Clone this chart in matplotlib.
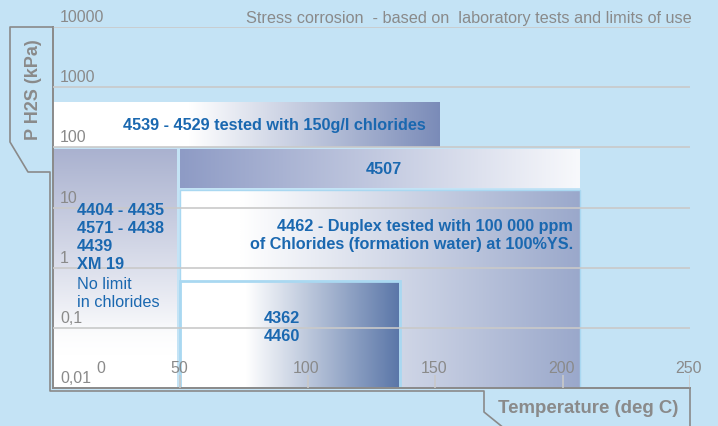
import numpy as np
import matplotlib.pyplot as plt
from matplotlib.colors import to_rgb
from matplotlib.lines import Line2D
from matplotlib.patches import Rectangle

plt.rcParams["font.family"] = ["Liberation Sans", "DejaVu Sans"]

W, H = 718, 427
BG = "#c4e3f5"
GRAY = "#8a8a8a"
GRID = "#c9c9c9"
BLUE = "#1a68b0"
EDGE = "#a9d8f1"

# axis values
y_ticks = [0.01, 0.1, 1, 10, 100, 1000, 10000]
y_tick_labels = ["0,01", "0,1", "1", "10", "100", "1000", "10000"]
x_ticks = [0, 50, 100, 150, 200, 250]
x_tick_labels = ["0", "50", "100", "150", "200", "250"]

# domains of use per grade (temperature deg C, P H2S kPa)
grades = ["4539 - 4529", "4507", "4404 / 4571 / 4439 / XM 19", "4462", "4362 / 4460"]
t_low = [0, 50, 0, 50, 50]
t_high = [152, 207, 49, 207, 136]
p_low = [100, 21, 0.01, 0.01, 0.01]
p_high = [560, 97, 97, 19.5, 0.61]


def px(x, y):
    return x / W, 1 - y / H


def gradient(ax, x0, x1, y0, y1, c0, c1, vertical=False, hold=0.0):
    c0 = np.array(to_rgb(c0))
    c1 = np.array(to_rgb(c1))
    if vertical:
        ys = np.linspace(y0, y1, 2000)
        t = (np.log10(ys) - np.log10(y0)) / (np.log10(y1) - np.log10(y0))
    else:
        t = np.linspace(0, 1, 400)
    m = np.clip((t - hold) / (1 - hold), 0, 1)
    cols = c0 + (c1 - c0) * m[:, None]
    img = cols[:, None, :] if vertical else cols[None, :, :]
    ax.imshow(img, extent=(x0, x1, y0, y1), origin="lower", aspect="auto",
              interpolation="bilinear", zorder=1)


fig = plt.figure(figsize=(W / 100, H / 100), dpi=100)
fig.patch.set_facecolor(BG)

ax = fig.add_axes([53 / W, 38 / H, 637 / W, 361 / H])
ax.set_facecolor("none")
ax.set_yscale("log")

# colour ramps of each box
ramps = [
    ("#ffffff", "#7a8bb8", False, 0.35),
    ("#8e9bc5", "#f8f9fc", False, 0.0),
    ("#ffffff", "#a9b1cf", True, 0.15),
    ("#ffffff", "#9aa8cb", False, 0.15),
    ("#ffffff", "#5a76a8", False, 0.3),
]
for i in range(len(grades)):
    c0, c1, vert, hold = ramps[i]
    gradient(ax, t_low[i], t_high[i], p_low[i], p_high[i], c0, c1, vert, hold)

# light blue outline round the duplex and 4362 boxes
for i in [3, 4]:
    ax.add_patch(Rectangle((t_low[i], p_low[i]), t_high[i] - t_low[i],
                           p_high[i] - p_low[i], fill=False, edgecolor=EDGE,
                           lw=2 if i == 4 else 1, zorder=2))

ax.set_xlim(0, 250)
ax.set_ylim(0.01, 10000)

for v in y_ticks[1:]:
    ax.axhline(v, color=GRID, lw=1.2, zorder=3)
ax.vlines(x_ticks[1:], 0.01, 0.0165, color=GRID, lw=1.2, zorder=3)

ax.set_xticks([])
ax.set_yticks([])
ax.minorticks_off()
for s in ["top", "right"]:
    ax.spines[s].set_visible(False)
for s in ["left", "bottom"]:
    ax.spines[s].set_color(GRAY)
    ax.spines[s].set_linewidth(1.4)

for v, lab in zip(y_ticks, y_tick_labels):
    ax.annotate(lab, (0, v), xytext=(5, 7.5), textcoords="offset points",
                ha="left", va="center", color=GRAY, fontsize=11.5, zorder=4)
for v, lab in zip(x_ticks, x_tick_labels):
    dx = 34.5 if v == 0 else -1
    ax.annotate(lab, (v, 0.01), xytext=(dx, 14.5), textcoords="offset points",
                ha="center", va="center", color=GRAY, fontsize=11.5, zorder=4)

# box labels
ax.text(87, 237, "4539 - 4529 tested with 150g/l chlorides", color=BLUE,
        fontsize=11.7, fontweight="bold", ha="center", va="center", zorder=4)
ax.text(130, 45, "4507", color=BLUE, fontsize=11.7, fontweight="bold",
        ha="center", va="center", zorder=4)
ax.text(9.3, 3.3, "4404 - 4435\n4571 - 4438\n4439\nXM 19", color=BLUE,
        fontsize=11.7, fontweight="bold", ha="left", va="center", zorder=4,
        linespacing=1.26)
ax.text(9.3, 0.39, "No limit\nin chlorides", color=BLUE, fontsize=11.7,
        ha="left", va="center", zorder=4, linespacing=1.26)
ax.text(204, 3.6, "4462 - Duplex tested with 100 000 ppm\n"
        "of Chlorides (formation water) at 100%YS.", color=BLUE,
        fontsize=11.7, fontweight="bold", ha="right", va="center",
        multialignment="right", zorder=4, linespacing=1.26)
ax.text(82.8, 0.105, "4362\n4460", color=BLUE, fontsize=11.7,
        fontweight="bold", ha="left", va="center", zorder=4, linespacing=1.26)

# frame and axis-title tabs
outer = [(53, 28), (10, 28), (10, 143), (28, 173), (50, 173), (50, 392),
         (484, 392), (484, 413), (505, 430)]
fig.add_artist(Line2D([px(*p)[0] for p in outer], [px(*p)[1] for p in outer],
                      transform=fig.transFigure, color=GRAY, lw=1.2))
right_tab = [(690, 389), (690, 430)]
fig.add_artist(Line2D([px(*p)[0] for p in right_tab],
                      [px(*p)[1] for p in right_tab],
                      transform=fig.transFigure, color=GRAY, lw=1.2))

fig.text(*px(692, 18), "Stress corrosion  - based on  laboratory tests and limits of use",
         ha="right", va="center", color=GRAY, fontsize=11.7)
fig.text(*px(33, 90), "P H2S (kPa)", rotation=90, ha="center", va="center",
         color=GRAY, fontsize=13, fontweight="bold")
fig.text(*px(588, 409), "Temperature (deg C)", ha="center", va="center",
         color=GRAY, fontsize=13.4, fontweight="bold")

fig.savefig("out.png", dpi=100, facecolor=BG)
